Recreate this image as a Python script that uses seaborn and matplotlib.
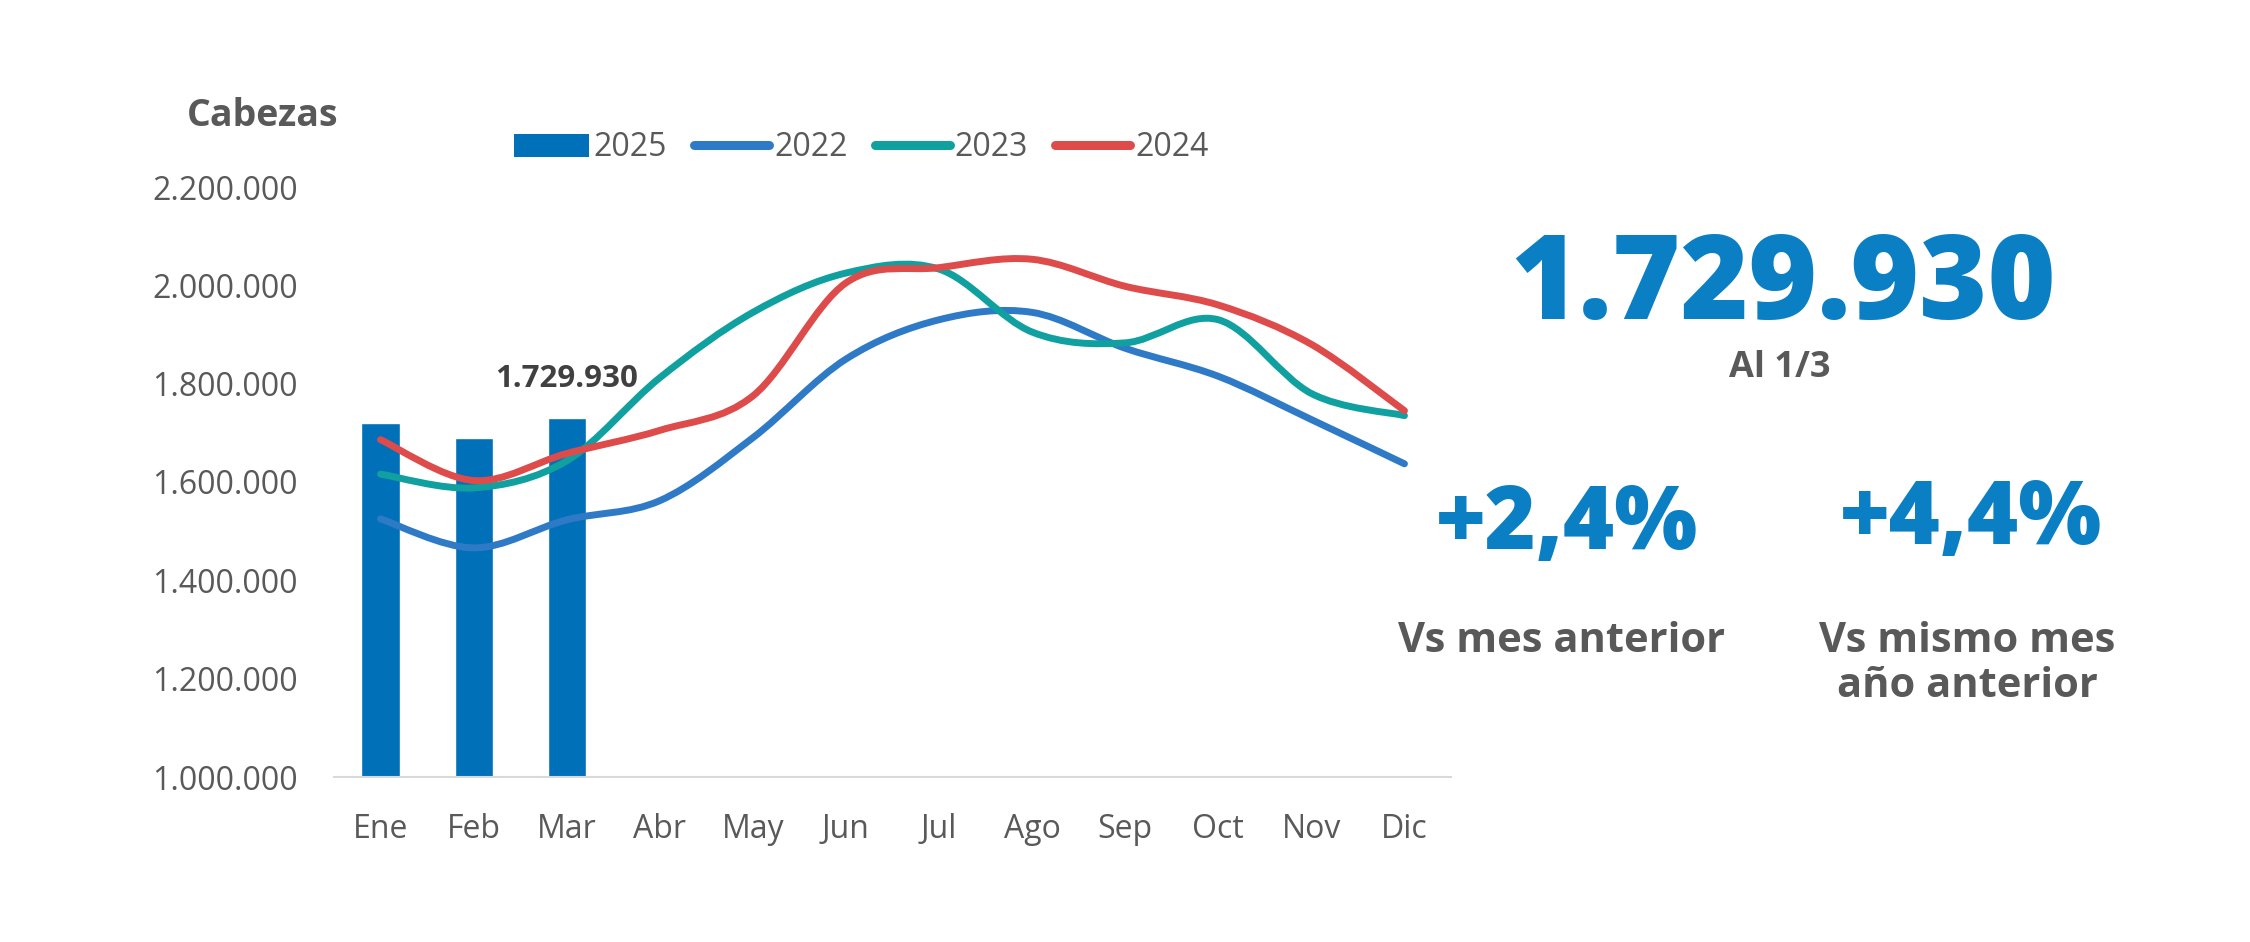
import matplotlib
matplotlib.use("Agg")
import matplotlib.pyplot as plt
from matplotlib.path import Path
from matplotlib.patches import PathPatch, Patch
from matplotlib.lines import Line2D
import seaborn as sns
import pandas as pd

# datos
meses = ["Ene", "Feb", "Mar", "Abr", "May", "Jun", "Jul", "Ago", "Sep", "Oct", "Nov", "Dic"]
cab_2025 = [1720000, 1689000, 1729930]
cab_2022 = [1525000, 1466000, 1523000, 1562000, 1690000, 1850000, 1930000, 1945000, 1872000, 1815000, 1727000, 1637000]
cab_2023 = [1616000, 1588000, 1643000, 1812000, 1945000, 2025000, 2033000, 1905000, 1883000, 1930000, 1780000, 1735000]
cab_2024 = [1686000, 1603000, 1658000, 1705000, 1775000, 2005000, 2036000, 2053000, 1998000, 1960000, 1880000, 1745000]

total_actual = "1.729.930"
fecha = "Al 1/3"
var_mes = "+2,4%"
var_anio = "+4,4%"

# colores
c_bar = "#0070B8"
c_2022 = "#2F7AC6"
c_2023 = "#10A0A0"
c_2024 = "#DE4B4B"
c_big = "#0A7FC4"
c_txt = "#595959"

sns.set_style("white")
plt.rcParams["font.family"] = ["Open Sans", "DejaVu Sans"]

fig = plt.figure(figsize=(22.5, 9.42), dpi=100)
ax = fig.add_axes([334 / 2250, 1 - 777 / 942, (1451 - 334) / 2250, (777 - 187) / 942])

df_bar = pd.DataFrame({"mes": meses[:3], "valor": cab_2025})
sns.barplot(data=df_bar, x="mes", y="valor", order=meses, color=c_bar,
            saturation=1, width=0.41, ax=ax)


def linea_suave(ax, ys, color):
    # curva suavizada tipo Excel (bezier por los puntos de datos)
    xs = list(range(len(ys)))
    pts = list(zip(xs, ys))
    verts = [pts[0]]
    codes = [Path.MOVETO]
    for i in range(len(pts) - 1):
        p0 = pts[i - 1] if i > 0 else pts[i]
        p1 = pts[i]
        p2 = pts[i + 1]
        p3 = pts[i + 2] if i + 2 < len(pts) else pts[i + 1]
        c1 = (p1[0] + (p2[0] - p0[0]) / 6, p1[1] + (p2[1] - p0[1]) / 6)
        c2 = (p2[0] - (p3[0] - p1[0]) / 6, p2[1] - (p3[1] - p1[1]) / 6)
        verts += [c1, c2, p2]
        codes += [Path.CURVE4] * 3
    patch = PathPatch(Path(verts, codes), facecolor="none", edgecolor=color,
                      linewidth=5, capstyle="round", joinstyle="round", zorder=3)
    ax.add_patch(patch)


linea_suave(ax, cab_2022, c_2022)
linea_suave(ax, cab_2023, c_2023)
linea_suave(ax, cab_2024, c_2024)

ax.set_ylim(1000000, 2200000)
ax.set_xlim(-0.5, 11.5)
ax.set_yticks(range(1000000, 2200001, 200000))
ax.set_yticklabels([f"{v:,.0f}".replace(",", ".") for v in range(1000000, 2200001, 200000)])
ax.set_xlabel("")
ax.set_ylabel("")
ax.tick_params(axis="y", length=0, pad=26, labelsize=23, labelcolor=c_txt)
ax.tick_params(axis="x", length=0, pad=26, labelsize=23, labelcolor=c_txt)
for s in ["top", "right", "left"]:
    ax.spines[s].set_visible(False)
ax.spines["bottom"].set_color("#D9D9D9")
ax.spines["bottom"].set_linewidth(1.5)
ax.grid(False)

# etiqueta de la barra de marzo
ax.annotate(total_actual, xy=(2, cab_2025[2]), xytext=(0, 28), textcoords="offset points",
            ha="center", va="center", fontsize=22.5, fontweight="bold", color="#404040")

# leyenda
handles = [Patch(facecolor=c_bar, edgecolor="none"),
           Line2D([], [], color=c_2022, linewidth=6.5),
           Line2D([], [], color=c_2023, linewidth=6.5),
           Line2D([], [], color=c_2024, linewidth=6.5)]
fig.legend(handles, ["2025", "2022", "2023", "2024"], loc="center left",
           bbox_to_anchor=(514 / 2250, 1 - 148 / 942), ncol=4, frameon=False,
           fontsize=23, handlelength=2.35, handletextpad=0.15, columnspacing=0.85,
           borderpad=0, borderaxespad=0, labelcolor=c_txt)

fig.text(263 / 2250, 1 - 116 / 942, "Cabezas", ha="center", va="center",
         fontsize=27, fontweight="bold", color=c_txt)

# indicadores
fig.text(1783 / 2250, 1 - 289 / 942, total_actual, ha="center", va="center",
         fontsize=84, fontweight="heavy", color=c_big)
fig.text(1780 / 2250, 1 - 368 / 942, fecha, ha="center", va="center",
         fontsize=26, fontweight="bold", color=c_txt)
fig.text(1567 / 2250, 1 - 526 / 942, var_mes, ha="center", va="center",
         fontsize=63, fontweight="heavy", color=c_big)
fig.text(1971 / 2250, 1 - 521 / 942, var_anio, ha="center", va="center",
         fontsize=63, fontweight="heavy", color=c_big)
fig.text(1562 / 2250, 1 - 641 / 942, "Vs mes anterior", ha="center", va="center",
         fontsize=30, fontweight="bold", color=c_txt)
fig.text(1967 / 2250, 1 - 664 / 942, "Vs mismo mes\naño anterior", ha="center", va="center",
         ma="center", linespacing=1.15, fontsize=30, fontweight="bold", color=c_txt)

fig.savefig("out.png", dpi=100, facecolor="white")
